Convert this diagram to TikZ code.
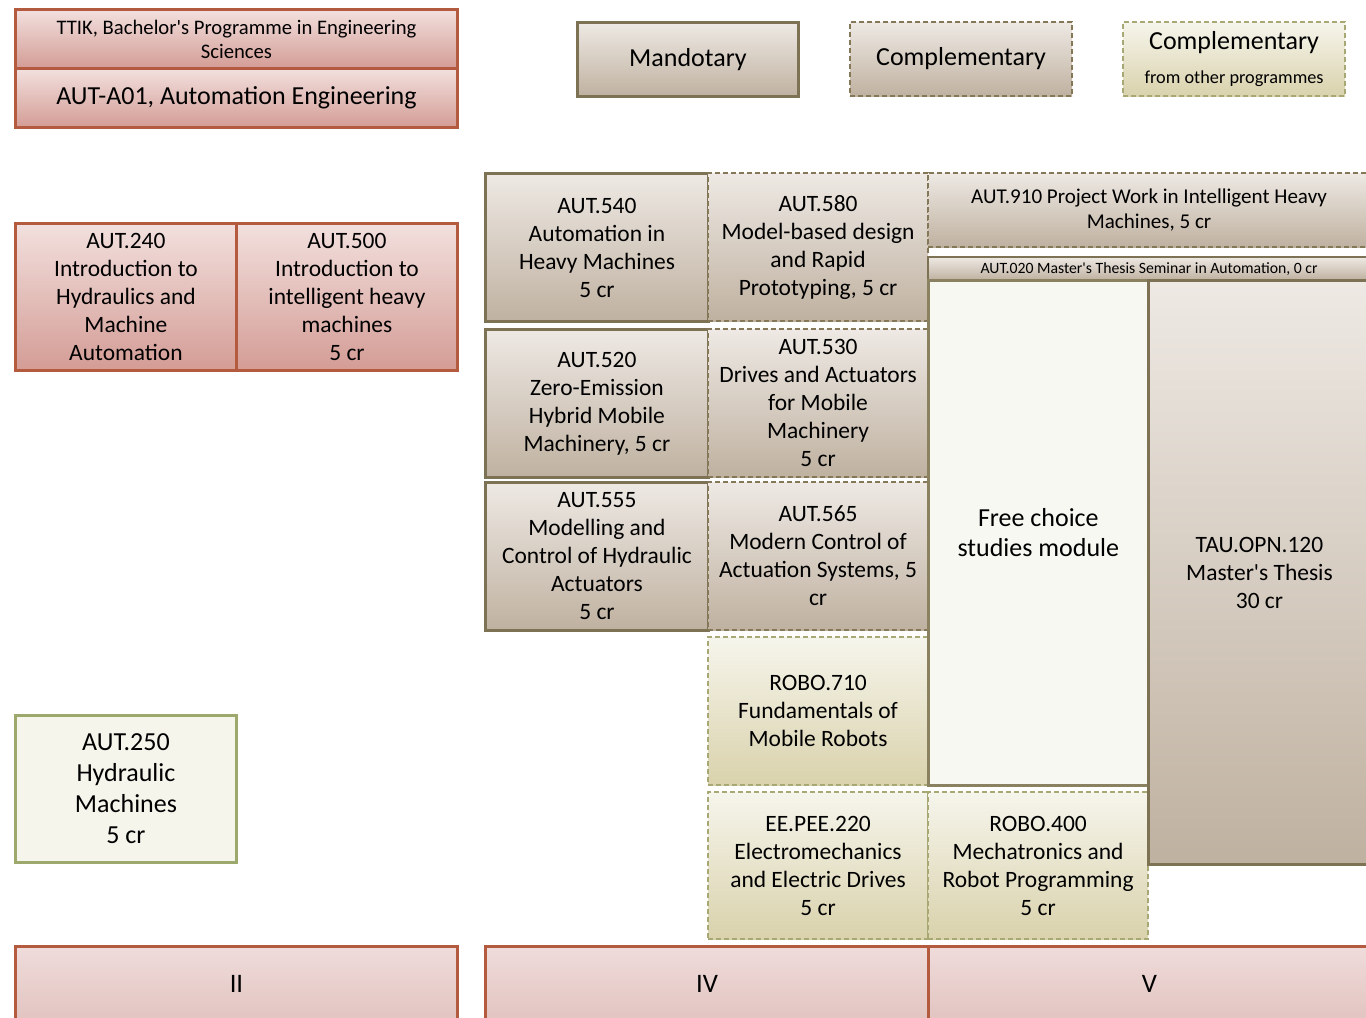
\documentclass[tikz,border=0pt]{standalone}
\usepackage{fontspec}
\setmainfont{Carlito}

\begin{document}
\begin{tikzpicture}[x=0.75pt,y=-0.75pt,
  sz/.style 2 args={minimum width=#1*0.75pt,minimum height=#2*0.75pt},
  cbox/.style={anchor=north west,inner sep=0pt,align=center,font=\fontsize{17.6}{21}\selectfont},
  redbox/.style={cbox,draw=redline,line width=2.2pt,top color=redtop,bottom color=redbot},
  mandbox/.style={cbox,draw=brline,line width=2.2pt,top color=brtop,bottom color=brbot},
  compbox/.style={cbox,draw=brdash,line width=1.6pt,dash pattern=on 4pt off 2pt,top color=brtop,bottom color=brbot},
  otherbox/.style={cbox,draw=grdash,line width=1.6pt,dash pattern=on 4pt off 2pt,top color=grtop,bottom color=grbot},
  semester/.style={cbox,draw=redline,line width=2.2pt,top color=semtop,bottom color=sembot,font=\fontsize{20}{24}\selectfont}]
\definecolor{redline}{HTML}{B35A3F}
\definecolor{redtop}{HTML}{F2E0DE}
\definecolor{redbot}{HTML}{D49C95}
\definecolor{brline}{HTML}{7E7254}
\definecolor{brdash}{HTML}{857858}
\definecolor{brtop}{HTML}{EEE9E4}
\definecolor{brbot}{HTML}{BFB1A0}
\definecolor{grline}{HTML}{9DA86C}
\definecolor{grdash}{HTML}{A7A874}
\definecolor{grtop}{HTML}{F6F5EC}
\definecolor{grbot}{HTML}{D9D2AC}
\definecolor{freefill}{HTML}{F8F8F3}
\definecolor{freeline}{HTML}{8A8160}
\definecolor{semtop}{HTML}{EFDCDB}
\definecolor{sembot}{HTML}{E2C4C0}
\clip (0,0) rectangle (1366,1017);
\fill[white] (0,0) rectangle (1366,1017);
% programme header
\node[redbox,sz={442}{59},font=\fontsize{15.5}{18}\selectfont] (ttik) at (14,8) {TTIK, Bachelor\textquotesingle s Programme in Engineering\\Sciences};
\node[redbox,sz={442}{59},font=\fontsize{19.5}{21}\selectfont] (a01) at (14,67) {AUT-A01, Automation Engineering};
% legend
\node[mandbox,sz={221}{74},font=\fontsize{19.5}{21}\selectfont] (mand) at (576,21) {Mandotary};
\node[compbox,sz={222}{74},font=\fontsize{19.5}{21}\selectfont] (comp) at (849,21) {Complementary};
\node[otherbox,sz={222}{74},font=\fontsize{19.5}{21}\selectfont] (other) at (1122,21) {Complementary\\[4pt]{\fontsize{13.7}{15}\selectfont from other programmes}};
% bachelor courses
\node[redbox,sz={221}{147}] (a240) at (14,222) {AUT.240\\Introduction to\\Hydraulics and\\Machine\\Automation};
\node[redbox,sz={221}{147}] (a500) at (235,222) {AUT.500\\Introduction to\\intelligent heavy\\machines\\5 cr};
\node[cbox,draw=grline,line width=2.2pt,fill=grtop,sz={221}{147},font=\fontsize{19.5}{23.2}\selectfont] (a250) at (14,714) {AUT.250\\Hydraulic\\Machines\\5 cr};
% master courses
\node[mandbox,sz={223}{148}] (a540) at (484,172) {AUT.540\\Automation in\\Heavy Machines\\5 cr};
\node[mandbox,sz={223}{148}] (a520) at (484,328) {AUT.520\\Zero-Emission\\Hybrid Mobile\\Machinery, 5 cr};
\node[mandbox,sz={223}{148}] (a555) at (484,481) {AUT.555\\Modelling and\\Control of Hydraulic\\Actuators\\5 cr};
\node[compbox,sz={220}{148}] (a580) at (707,172) {AUT.580\\Model-based design\\and Rapid\\Prototyping, 5 cr};
\node[compbox,sz={220}{148}] (a530) at (707,328) {AUT.530\\Drives and Actuators\\for Mobile\\Machinery\\5 cr};
\node[compbox,sz={220}{148}] (a565) at (707,481) {AUT.565\\Modern Control of\\Actuation Systems, 5\\cr};
\node[otherbox,sz={220}{148}] (r710) at (707,636) {ROBO.710\\Fundamentals of\\Mobile Robots};
\node[otherbox,sz={220}{147}] (ee220) at (707,791) {EE.PEE.220\\Electromechanics\\and Electric Drives\\5 cr};
\node[otherbox,sz={220}{147}] (r400) at (927,791) {ROBO.400\\Mechatronics and\\Robot Programming\\5 cr};
\node[compbox,sz={442}{74},font=\fontsize{15.8}{19}\selectfont] (a910) at (927,172) {AUT.910 Project Work in Intelligent Heavy\\Machines, 5 cr};
\node[mandbox,line width=1.6pt,sz={442}{23},font=\fontsize{11.8}{13}\selectfont] (a020) at (927,256) {AUT.020 Master\textquotesingle s Thesis Seminar in Automation, 0 cr};
\node[cbox,draw=freeline,line width=2pt,fill=freefill,sz={220}{505},font=\fontsize{19.5}{22.5}\selectfont] (free) at (927,279) {Free choice\\studies module};
\node[mandbox,sz={222}{584}] (tau) at (1147,279) {TAU.OPN.120\\Master\textquotesingle s Thesis\\30 cr};
% semesters
\foreach \nm/\x/\w/\lbl in {semII/14/442/II,semIV/484/443/IV,semV/927/442/V}
{ \node[semester,sz={\w}{74}] (\nm) at (\x,945) {\lbl};}
\end{tikzpicture}
\end{document}
